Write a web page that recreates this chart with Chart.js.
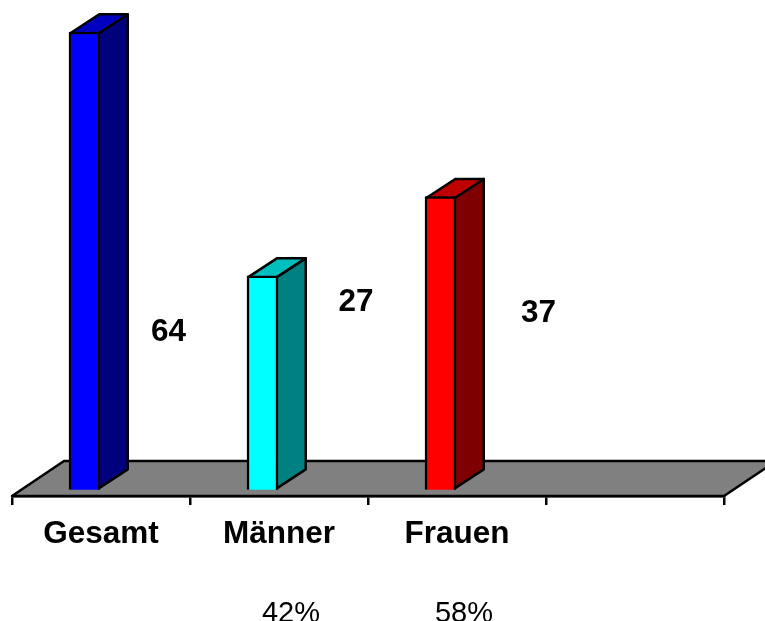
<!DOCTYPE html>
<html lang="de">
<head>
<meta charset="utf-8">
<title>Gesamt, Männer, Frauen</title>
<script src="https://cdn.jsdelivr.net/npm/chart.js@4"></script>
<style>
    html, body { margin: 0; padding: 0; background: #fff; overflow: hidden; }
    canvas { display: block; }
</style>
</head>
<body>
<canvas id="chart" width="765" height="621"></canvas>
<script>
const categories = ['Gesamt', 'Männer', 'Frauen', ''];
const values = [64, 27, 37, null];
const shares = ['', '42%', '58%', ''];

const frontColors = ['#0000ff', '#00ffff', '#ff0000', '#000000'];
const sideColors = ['#00007f', '#008080', '#7f0000', '#000000'];
const topColors = ['#0000bf', '#00bfbf', '#bf0000', '#000000'];

// the value labels sit loose next to the bars in the original
const valueLabelPos = [[67.5, 332], [77, 302], [81.5, 313]];
const shareLabelPos = [[0, 614], [12, 614], [7, 614], [0, 614]];

const FONT = '"Liberation Sans", Arial, sans-serif';
const LINE = 2.5;
const BAR_SHIFT = -16.5;
const DEPTH_X = 29;
const DEPTH_Y = 19;

function poly(ctx, points, fill) {
    ctx.beginPath();
    points.forEach((p, i) => i ? ctx.lineTo(p[0], p[1]) : ctx.moveTo(p[0], p[1]));
    ctx.closePath();
    if (fill) {
        ctx.fillStyle = fill;
        ctx.fill();
    }
    ctx.stroke();
}

const fake3d = {
    id: 'fake3d',
    afterDatasetsUpdate(chart) {
        const area = chart.chartArea;
        chart.getDatasetMeta(0).data.forEach(bar => {
            bar.x += BAR_SHIFT;
            // the tallest bar runs past the axis maximum and is cut off there
            bar.y = Math.max(bar.y, area.top);
        });
    },
    beforeDatasetsDraw(chart) {
        const ctx = chart.ctx;
        const area = chart.chartArea;
        ctx.save();
        ctx.strokeStyle = '#000';
        ctx.lineWidth = LINE;
        ctx.lineJoin = 'round';

        // floor
        poly(ctx, [
            [area.left, area.bottom],
            [area.left + 52, area.bottom - 35],
            [area.right + 52, area.bottom - 35],
            [area.right, area.bottom]
        ], '#808080');

        // side and top faces
        chart.getDatasetMeta(0).data.forEach((bar, i) => {
            if (values[i] === null) return;
            const half = bar.width / 2 - LINE / 2;
            const left = bar.x - half;
            const right = bar.x + half;
            const top = bar.y + LINE / 2;
            const bottom = bar.base - LINE / 2;
            poly(ctx, [
                [right, bottom],
                [right + DEPTH_X, bottom - DEPTH_Y],
                [right + DEPTH_X, top - DEPTH_Y],
                [right, top]
            ], sideColors[i]);
            poly(ctx, [
                [left, top],
                [left + DEPTH_X, top - DEPTH_Y],
                [right + DEPTH_X, top - DEPTH_Y],
                [right, top]
            ], topColors[i]);
        });
        ctx.restore();
    },
    afterDraw(chart) {
        const ctx = chart.ctx;
        const xScale = chart.scales.x;
        ctx.save();
        ctx.fillStyle = '#000';
        ctx.textAlign = 'center';
        ctx.textBaseline = 'middle';

        ctx.font = 'bold 31.5px ' + FONT;
        valueLabelPos.forEach((pos, i) => {
            ctx.fillText(String(values[i]), xScale.getPixelForValue(i) + pos[0], pos[1]);
        });

        ctx.font = '29px ' + FONT;
        shareLabelPos.forEach((pos, i) => {
            if (shares[i]) ctx.fillText(shares[i], xScale.getPixelForValue(i) + pos[0], pos[1]);
        });
        ctx.restore();
    }
};

new Chart(document.getElementById('chart'), {
    type: 'bar',
    data: {
        labels: categories,
        datasets: [{
            data: values,
            backgroundColor: frontColors,
            borderColor: '#000',
            borderWidth: LINE,
            barThickness: 31,
            clip: false
        }]
    },
    options: {
        responsive: false,
        animation: false,
        layout: { padding: { left: 12, right: 41, top: 32, bottom: 0 } },
        plugins: {
            legend: { display: false },
            title: { display: false },
            tooltip: { enabled: false }
        },
        scales: {
            x: {
                afterFit(scale) { scale.height = 125; },
                border: { color: '#000', width: LINE },
                grid: {
                    drawOnChartArea: false,
                    color: '#000',
                    lineWidth: LINE,
                    tickLength: 9,
                    tickColor: '#000'
                },
                ticks: {
                    color: '#000',
                    padding: 10,
                    maxRotation: 0,
                    autoSkip: false,
                    font: { family: FONT, size: 31.5, weight: 'bold' }
                }
            },
            y: { display: false, min: -0.8, max: 57.8 }
        }
    },
    plugins: [fake3d]
});
</script>
</body>
</html>
